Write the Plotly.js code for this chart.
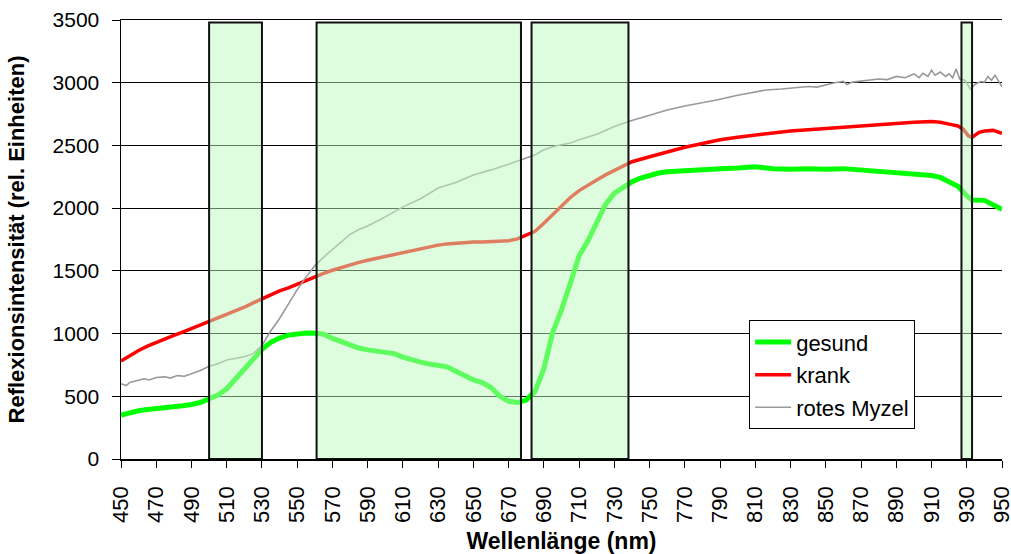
<!DOCTYPE html>
<html>
<head>
<meta charset="utf-8">
<script src="https://cdn.plot.ly/plotly-3.0.1.min.js"></script>
<style>html,body{margin:0;padding:0;background:#fff;}#chart{width:1011px;height:554px;}</style>
</head>
<body>
<div id="chart"></div>
<script>
// ---- data ----
const seriesNames = ["gesund", "krank", "rotes Myzel"];

const gesundX = [450,455,460,465,470,475,480,485,490,495,500,505,510,515,520,525,530,535,540,545,550,555,560,565,570,575,580,585,590,595,600,605,610,615,620,625,630,635,640,645,650,655,660,665,670,675,680,685,690,695,700,705,710,715,720,725,730,735,740,745,750,755,760,770,780,790,800,810,820,830,840,850,860,870,880,890,900,910,915,920,925,930,933,940,945,950];
const gesundY = [350,370,385,395,400,410,415,425,435,450,480,510,560,640,720,800,875,930,965,988,1000,1005,1003,995,962,935,905,885,870,858,850,840,812,790,772,758,748,735,700,662,630,610,570,500,460,450,470,540,720,1010,1190,1400,1620,1740,1880,2030,2120,2170,2210,2240,2265,2280,2290,2300,2310,2315,2320,2330,2315,2310,2315,2310,2315,2305,2295,2285,2275,2260,2245,2215,2175,2100,2065,2062,2030,1990];

const krankX = [450,455,460,465,470,475,480,485,490,495,500,505,510,515,520,525,530,535,540,545,550,555,560,565,570,575,580,585,590,595,600,605,610,615,620,625,630,635,640,645,650,655,660,665,670,675,680,685,690,695,700,705,710,715,720,725,730,735,740,750,760,770,780,790,800,810,820,830,840,850,860,870,880,890,900,910,915,920,925,928,931,933,937,940,945,950];
const krankY = [782,825,865,900,930,958,985,1012,1040,1068,1092,1120,1150,1180,1210,1245,1278,1310,1340,1365,1395,1425,1452,1480,1505,1528,1550,1568,1585,1600,1615,1630,1648,1662,1675,1690,1705,1715,1722,1727,1730,1731,1733,1735,1740,1755,1785,1815,1880,1950,2020,2085,2140,2185,2225,2265,2300,2340,2370,2410,2450,2485,2515,2545,2565,2585,2600,2615,2625,2640,2650,2660,2670,2680,2685,2690,2685,2670,2655,2630,2575,2565,2605,2615,2620,2596];

const myzelX = [450,453,455,460,463,466,470,475,478,482,486,490,495,500,505,510,515,520,525,530,535,540,545,550,555,560,565,570,575,580,585,590,600,610,620,630,640,650,660,665,670,680,685,690,695,700,705,710,720,730,738,750,760,770,780,788,800,810,816,825,830,840,845,850,855,860,862,865,870,875,880,885,890,895,900,903,905,908,910,912,915,918,920,922,924,926,929,932,935,938,940,942,944,946,948,950];
const myzelY = [600,585,610,625,640,630,650,655,645,665,660,680,705,740,760,790,805,815,840,905,1020,1120,1235,1350,1450,1540,1610,1670,1735,1790,1830,1858,1930,2010,2075,2160,2205,2265,2305,2325,2350,2400,2425,2465,2490,2505,2520,2545,2590,2650,2690,2740,2782,2815,2840,2862,2900,2925,2942,2950,2955,2970,2965,2985,3000,3010,2985,3005,3015,3020,3030,3025,3050,3040,3070,3040,3075,3050,3100,3060,3085,3050,3070,3040,3110,3030,3020,2950,2990,3010,3005,3050,3020,3060,3010,2968];

// highlighted wavelength bands [start, end]
const bandStart = [500, 561, 683, 927];
const bandEnd   = [530, 677, 738, 933];
const bandTop = 3480;

const xTicks = [];
for (let v = 450; v <= 950; v += 20) xTicks.push(v);
const yTicks = [0, 500, 1000, 1500, 2000, 2500, 3000, 3500];

// ---- chart ----
const FONT = "Arial, 'Liberation Sans', sans-serif";
const traces = [
  {x: gesundX, y: gesundY, name: seriesNames[0], type: "scatter", mode: "lines",
   line: {color: "#00ff00", width: 5}, legendgroup: "g1"},
  {x: krankX, y: krankY, name: seriesNames[1], type: "scatter", mode: "lines",
   line: {color: "#ff0000", width: 3.5}, legendgroup: "g2"},
  {x: myzelX, y: myzelY, name: seriesNames[2], type: "scatter", mode: "lines",
   line: {color: "#999999", width: 1.6}, legendgroup: "g3"}
];

const shapes = bandStart.map((s, i) => ({
  type: "rect", xref: "x", yref: "y", x0: s, x1: bandEnd[i], y0: 0, y1: bandTop,
  fillcolor: "rgba(190,250,190,0.5)", line: {color: "#111", width: 2}, layer: "above"
}));

const layout = {
  width: 1011, height: 554,
  margin: {l: 121, r: 9, t: 20, b: 95},
  paper_bgcolor: "#fff", plot_bgcolor: "#fff",
  font: {family: FONT, color: "#000", size: 18},
  showlegend: true,
  legend: {x: 0.713, y: 0.316, xanchor: "left", yanchor: "top",
    bgcolor: "#fff", bordercolor: "#000", borderwidth: 1,
    font: {family: FONT, size: 22, color: "#000"}, tracegroupgap: 1,
    itemwidth: 36},
  xaxis: {
    range: [450, 950], tickvals: xTicks, ticktext: xTicks.map(String),
    tickangle: -90, ticks: "outside", ticklen: 7, tickcolor: "#000", tickwidth: 1,
    showline: true, linecolor: "#000", linewidth: 1.5, mirror: true,
    showgrid: false, zeroline: false, ticklabeloverflow: "allow",
    ticklabelstandoff: 10,
    tickfont: {family: FONT, size: 22, color: "#000"},
    title: {text: "<b>Wellenlänge (nm)</b>", font: {family: FONT, size: 23, color: "#000"}, standoff: 12}
  },
  yaxis: {
    range: [0, 3500], tickvals: yTicks, ticktext: yTicks.map(String),
    ticks: "outside", ticklen: 8, tickcolor: "#000", tickwidth: 1,
    showline: true, linecolor: "#000", linewidth: 1.5,
    showgrid: true, gridcolor: "#000", gridwidth: 1, zeroline: false,
    ticklabelstandoff: 8,
    tickfont: {family: FONT, size: 21, color: "#000"},
    title: {text: "<b>Reflexionsintensität (rel. Einheiten)</b>", font: {family: FONT, size: 22, color: "#000"}, standoff: 22}
  },
  shapes: shapes
};

Plotly.newPlot("chart", traces, layout, {displayModeBar: false, staticPlot: true});
</script>
</body>
</html>
